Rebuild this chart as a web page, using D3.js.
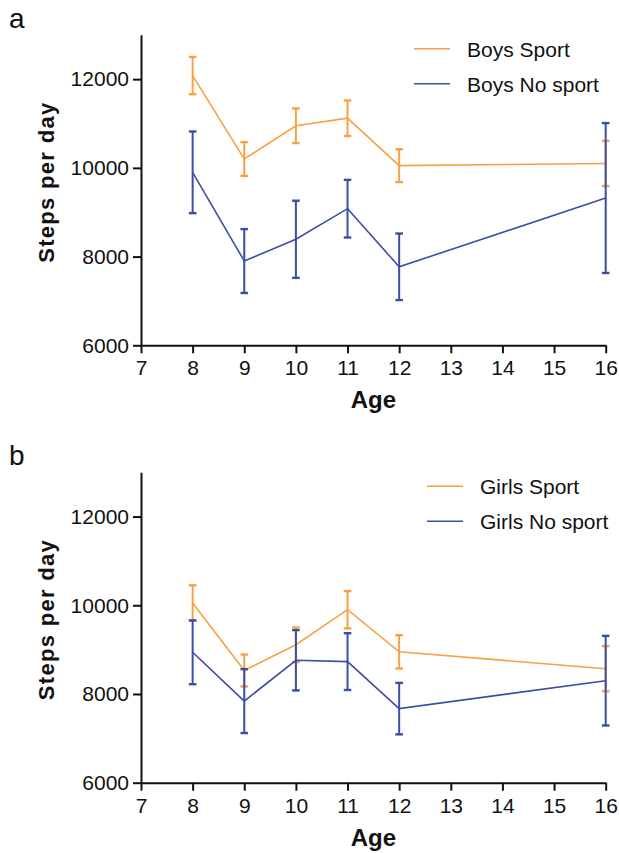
<!DOCTYPE html>
<html>
<head>
<meta charset="utf-8">
<script src="https://cdn.jsdelivr.net/npm/d3@7"></script>
<style>
  body { margin: 0; background: #fff; }
  text { font-family: "Liberation Sans", Arial, sans-serif; fill: #111; }
</style>
</head>
<body>
<div id="chart"></div>
<script>
let width = 619;
let height = 853;

// data
let ages = [8, 9, 10, 11, 12, 16];
let xTicks = [7, 8, 9, 10, 11, 12, 13, 14, 15, 16];
let yTicks = [6000, 8000, 10000, 12000];

let boysSport = [12080, 10200, 10950, 11120, 10050, 10100];
let boysSportErr = [420, 380, 390, 400, 370, 510];
let boysNoSport = [9900, 7900, 8390, 9080, 7770, 9320];
let boysNoSportErr = [920, 720, 870, 650, 750, 1690];

let girlsSport = [10050, 8530, 9110, 9900, 8950, 8570];
let girlsSportErr = [400, 360, 390, 420, 375, 510];
let girlsNoSport = [8940, 7840, 8760, 8730, 7670, 8300];
let girlsNoSportErr = [720, 720, 680, 640, 580, 1010];

let orange = "#f8a044";
let blue = "#3a4ea6";

let svg = d3.select("#chart")
    .append("svg")
    .attr("width", width)
    .attr("height", height);

let xScale = d3.scaleLinear()
    .domain([7, 16])
    .range([141, 605.7]);

function drawPanel(top, letter, series, legendX) {
    let yScale = d3.scaleLinear()
        .domain([6000, 13000])
        .range([top + 310.5, top]);

    let g = svg.append("g");

    // panel letter
    g.append("text")
        .attr("x", 9)
        .attr("y", top - 7)
        .style("font-size", "28px")
        .text(letter);

    // series: error bars + lines
    series.forEach(function(s) {
        let pts = ages.map(function(a, i) {
            return { x: a, y: s.values[i], e: s.errors[i] };
        });

        let line = d3.line()
            .x(function(d) { return xScale(d.x); })
            .y(function(d) { return yScale(d.y); });

        g.append("path")
            .datum(pts)
            .attr("d", line)
            .attr("fill", "none")
            .attr("stroke", s.color)
            .attr("stroke-width", 1.6);

        let bars = g.selectAll(null)
            .data(pts)
            .enter()
            .append("g");

        bars.append("line")
            .attr("x1", function(d) { return xScale(d.x); })
            .attr("x2", function(d) { return xScale(d.x); })
            .attr("y1", function(d) { return yScale(d.y - d.e); })
            .attr("y2", function(d) { return yScale(d.y + d.e); })
            .attr("stroke", s.color)
            .attr("stroke-width", 2);

        [-1, 1].forEach(function(sign) {
            bars.append("line")
                .attr("x1", function(d) { return xScale(d.x) - 3.8; })
                .attr("x2", function(d) { return xScale(d.x) + 3.8; })
                .attr("y1", function(d) { return yScale(d.y + sign * d.e); })
                .attr("y2", function(d) { return yScale(d.y + sign * d.e); })
                .attr("stroke", s.color)
                .attr("stroke-width", 2.4);
        });
    });

    // axes
    let xAxis = d3.axisBottom(xScale)
        .tickValues(xTicks)
        .tickSize(8)
        .tickSizeOuter(0)
        .tickPadding(7);

    let yAxis = d3.axisLeft(yScale)
        .tickValues(yTicks)
        .tickSize(8)
        .tickSizeOuter(0)
        .tickPadding(4)
        .tickFormat(d3.format("d"));

    let gx = g.append("g")
        .attr("transform", "translate(0," + yScale(6000) + ")")
        .call(xAxis);

    let gy = g.append("g")
        .attr("transform", "translate(" + xScale(7) + ",0)")
        .call(yAxis);

    [gx, gy].forEach(function(ax) {
        ax.select(".domain").attr("stroke", "#111").attr("stroke-width", 2);
        ax.selectAll(".tick line").attr("stroke", "#111").attr("stroke-width", 2);
        ax.selectAll(".tick text")
            .style("font-size", "21px")
            .style("font-family", "'Liberation Sans', Arial, sans-serif")
            .attr("fill", "#111");
    });

    // axis titles
    g.append("text")
        .attr("x", (xScale(7) + xScale(16)) / 2)
        .attr("y", yScale(6000) + 63)
        .attr("text-anchor", "middle")
        .style("font-size", "24px")
        .style("font-weight", "bold")
        .text("Age");

    g.append("text")
        .attr("transform", "translate(54," + (top + 148) + ") rotate(-90)")
        .attr("text-anchor", "middle")
        .attr("textLength", 160)
        .attr("lengthAdjust", "spacing")
        .style("font-size", "22px")
        .style("font-weight", "bold")
        .text("Steps per day");

    // legend
    series.forEach(function(s, i) {
        let ly = top + 14 + i * 35;
        g.append("line")
            .attr("x1", legendX)
            .attr("x2", legendX + 36)
            .attr("y1", ly)
            .attr("y2", ly)
            .attr("stroke", s.color)
            .attr("stroke-width", 1.6);
        g.append("text")
            .attr("x", legendX + 53)
            .attr("y", ly + 8)
            .style("font-size", "21px")
            .text(s.name);
    });
}

drawPanel(34.8, "a", [
    { name: "Boys Sport", values: boysSport, errors: boysSportErr, color: orange },
    { name: "Boys No sport", values: boysNoSport, errors: boysNoSportErr, color: blue }
], 414);

drawPanel(472.2, "b", [
    { name: "Girls Sport", values: girlsSport, errors: girlsSportErr, color: orange },
    { name: "Girls No sport", values: girlsNoSport, errors: girlsNoSportErr, color: blue }
], 427);
</script>
</body>
</html>
